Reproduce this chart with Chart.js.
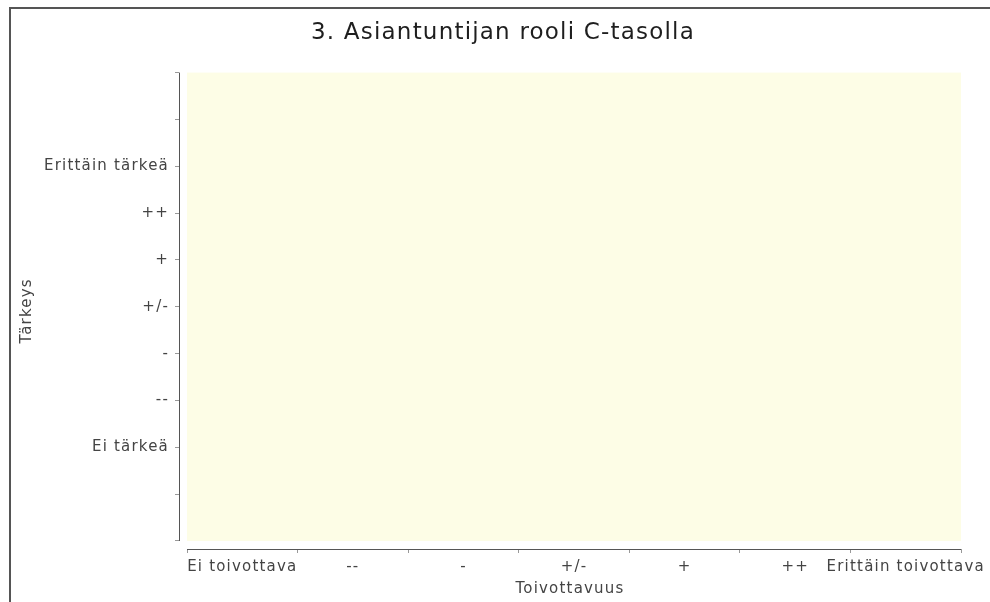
<!DOCTYPE html>
<html>
<head>
<meta charset="utf-8">
<script src="https://cdn.jsdelivr.net/npm/chart.js@4.4.1/dist/chart.umd.min.js"></script>
<style>
  html, body { margin: 0; padding: 0; background: #fff; }
  #chart { display: block; }
</style>
</head>
<body>
<canvas id="chart" width="990" height="602"></canvas>
<script>
// akselien luokat
const xLabels = ['Ei toivottava', '--', '-', '+/-', '+', '++', 'Erittäin toivottava'];
const yLabels = ['Ei tärkeä', '--', '-', '+/-', '+', '++', 'Erittäin tärkeä'];
// y-akselin tikit -2..8 (vain 0..6 nimetty)
const yTicks = [-2, -1, 0, 1, 2, 3, 4, 5, 6, 7, 8];
// x-akselin tikit 0..7, nimet välien keskellä
const xTicks = [0, 0.5, 1, 1.5, 2, 2.5, 3, 3.5, 4, 4.5, 5, 5.5, 6, 6.5, 7];
// vastaukset (kuvassa ei yhtään pistettä)
const points = [];

const FONT = 'DejaVu Sans';
const SPACING = '1.2px';

//taustat, kehys ja akselit
const decor = {
  id: 'decor',
  beforeUpdate(chart) {
    chart.ctx.letterSpacing = SPACING;
  },
  afterLayout(chart) {
    // otsikko keskitetään koko alkuperäisen kuvan leveydelle
    chart.titleBlock.left += 36;
  },
  beforeDraw(chart) {
    const c = chart.ctx;
    const x = chart.scales.x, y = chart.scales.y;
    c.letterSpacing = SPACING;
    c.save();
    c.fillStyle = '#fff';
    c.fillRect(0, 0, chart.width, chart.height);
    c.fillStyle = '#fdfde6';
    const l = x.getPixelForValue(0), r = x.getPixelForValue(7);
    const t = y.getPixelForValue(8), b = y.getPixelForValue(-2);
    c.fillRect(l, t, r - l, b - t);
    c.strokeStyle = '#555';
    c.lineWidth = 2;
    c.beginPath();
    c.moveTo(10, chart.height + 2);
    c.lineTo(10, 8);
    c.lineTo(chart.width + 2, 8);
    c.stroke();
    c.restore();
  },
  afterDraw(chart) {
    const c = chart.ctx;
    const x = chart.scales.x, y = chart.scales.y;
    const a = chart.chartArea;
    c.save();
    c.strokeStyle = '#555';
    c.lineWidth = 1;
    c.beginPath();
    c.moveTo(a.left + 0.5, y.getPixelForValue(8));
    c.lineTo(a.left + 0.5, y.getPixelForValue(-2));
    c.moveTo(x.getPixelForValue(0), a.bottom + 0.5);
    c.lineTo(x.getPixelForValue(7), a.bottom + 0.5);
    c.stroke();
    c.restore();
  }
};

const config = {
  type: 'scatter',
  data: {
    datasets: [{
      label: 'Vastaukset',
      data: points,
      backgroundColor: '#c00',
      pointRadius: 4
    }]
  },
  options: {
    responsive: false,
    animation: false,
    layout: { padding: { left: 9, right: 29, top: 0, bottom: 0 } },
    plugins: {
      legend: { display: false },
      tooltip: { enabled: false },
      title: {
        display: true,
        text: '3. Asiantuntijan rooli C-tasolla',
        color: '#1e1e1e',
        font: { family: FONT, size: 23, weight: 'normal', lineHeight: 1.2 },
        padding: { top: 19, bottom: 26 }
      }
    },
    scales: {
      x: {
        type: 'linear',
        min: -0.0724,
        max: 7,
        afterBuildTicks: (s) => { s.ticks = xTicks.map(v => ({ value: v })); },
        afterFit: (s) => { s.height = 53; },
        border: { display: false },
        grid: {
          drawOnChartArea: false,
          tickLength: 4,
          color: (ctx) => Number.isInteger(ctx.tick && ctx.tick.value) ? '#999' : 'rgba(0,0,0,0)'
        },
        ticks: {
          autoSkip: false,
          maxRotation: 0,
          padding: 5,
          color: '#444',
          font: { family: FONT, size: 15 },
          callback: (v) => Number.isInteger(v) ? '' : xLabels[v - 0.5]
        },
        title: {
          display: true,
          text: 'Toivottavuus',
          color: '#444',
          font: { family: FONT, size: 15 },
          padding: { top: 0, bottom: 4 }
        }
      },
      y: {
        type: 'linear',
        min: -2.171,
        max: 8,
        afterBuildTicks: (s) => { s.ticks = yTicks.map(v => ({ value: v })); },
        afterFit: (s) => { s.width = 170; },
        border: { display: false },
        grid: {
          drawOnChartArea: false,
          tickLength: 4,
          color: '#999'
        },
        ticks: {
          padding: 6,
          color: '#444',
          font: { family: FONT, size: 15 },
          callback: (v) => (v >= 0 && v <= 6) ? yLabels[v] : ''
        },
        title: {
          display: true,
          text: 'Tärkeys',
          color: '#444',
          font: { family: FONT, size: 15 },
          padding: { top: 9, bottom: 0 }
        }
      }
    }
  },
  plugins: [decor]
};

const chart = new Chart(document.getElementById('chart'), config);
</script>
</body>
</html>
